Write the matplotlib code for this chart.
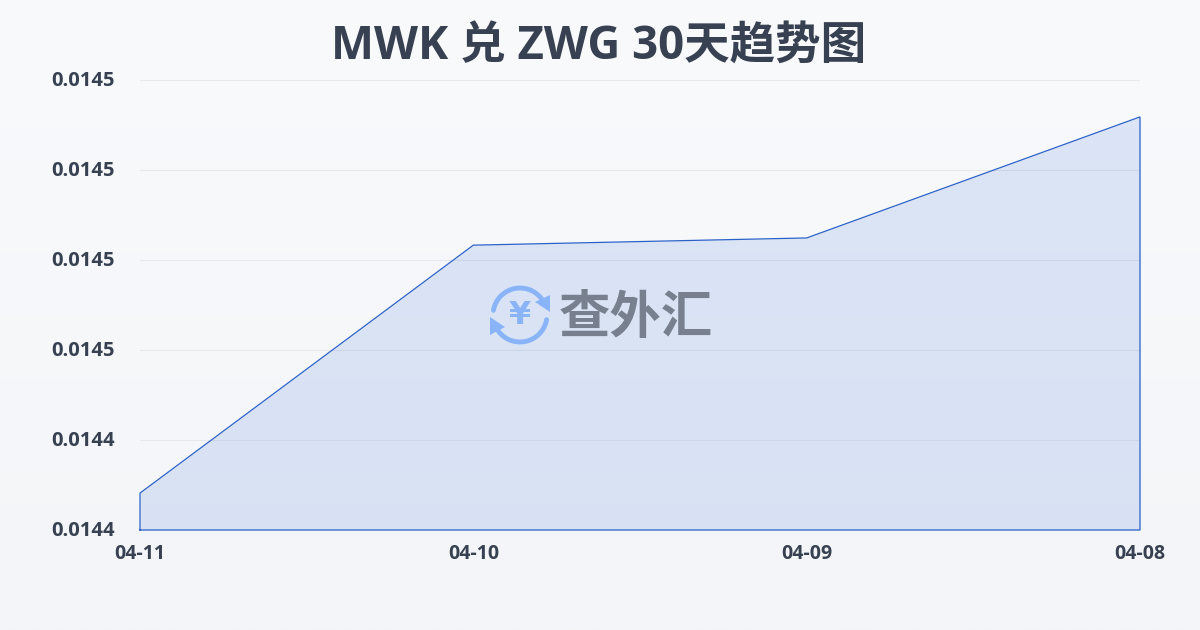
#!/usr/bin/env python3
"""MWK / ZWG 30 day trend, area chart with watermark."""
import matplotlib
matplotlib.use("Agg")
import matplotlib.pyplot as plt
from matplotlib.patches import Arc, Polygon
from matplotlib.transforms import ScaledTranslation
import numpy as np

plt.rcParams["font.family"] = ["Open Sans", "Noto Sans CJK SC", "DejaVu Sans"]

TITLE = "MWK 兑 ZWG 30天趋势图"
WATERMARK = "查外汇"
dates = ["04-11", "04-10", "04-09", "04-08"]
rates = [0.0144182, 0.0144733, 0.0144749, 0.0145018]
y_ticks = [0.01441, 0.01443, 0.01445, 0.01447, 0.01449, 0.01451]
y_labels = ["0.0144", "0.0144", "0.0145", "0.0145", "0.0145", "0.0145"]

W, H = 1200, 630
TEXT = "#374151"
LINE = "#2b62c8"

fig = plt.figure(figsize=(W / 100, H / 100), dpi=100)

# page background gradient
bg = fig.add_axes([0, 0, 1, 1], zorder=0)
bg.imshow(np.linspace(0, 1, 256).reshape(-1, 1), aspect="auto", extent=[0, 1, 0, 1],
          cmap=matplotlib.colors.LinearSegmentedColormap.from_list("bg", ["#f9fafc", "#f3f5f8"]))
bg.axis("off")

ax = fig.add_axes([140 / W, 1 - 530 / H, 1000 / W, 450 / H], zorder=1)
ax.patch.set_alpha(0)
x = np.arange(len(dates))
ax.fill_between(x, rates, y_ticks[0], color="#3b74dc", alpha=0.15, lw=0, zorder=2)
ax.plot([x[0], *x, x[-1], x[0]], [y_ticks[0], *rates, y_ticks[0], y_ticks[0]],
        color=LINE, lw=0.9, zorder=3, solid_joinstyle="miter", clip_on=False)
ax.set_xlim(x[0], x[-1])
ax.set_ylim(y_ticks[0], y_ticks[-1])
ax.set_yticks(y_ticks, y_labels)
ax.set_xticks(x, dates)
ax.grid(axis="y", color="#e6e8ec", lw=0.8, zorder=1)
ax.set_axisbelow(True)
for s in ax.spines.values():
    s.set_visible(False)
ax.tick_params(axis="y", length=0, pad=18, labelsize=14.5, labelcolor=TEXT)
ax.tick_params(axis="x", length=0, pad=10, labelsize=14, labelcolor=TEXT)
for t in ax.get_xticklabels() + ax.get_yticklabels():
    t.set_fontweight("bold")
up = ScaledTranslation(0, 1 / 100, fig.dpi_scale_trans)
for t in ax.get_yticklabels():
    t.set_transform(t.get_transform() + up)

fig.text(0.4985, 1 - 47 / H, TITLE, ha="center", va="center", fontsize=32.8,
         fontweight="bold", color=TEXT)

# watermark, drawn in pixel coordinates
wm = fig.add_axes([0, 0, 1, 1], zorder=2)
wm.set_xlim(0, W)
wm.set_ylim(H, 0)
wm.axis("off")
BLUE = "#8ab4f8"
wm.add_patch(Arc((520, 315), 54, 54, theta1=190, theta2=330, color=BLUE, lw=3.5, capstyle="round"))
wm.add_patch(Arc((520, 315), 54, 54, theta1=10, theta2=150, color=BLUE, lw=3.5, capstyle="round"))
wm.add_patch(Polygon([[550, 295], [550, 312], [535, 302]], color=BLUE, lw=0))
wm.add_patch(Polygon([[490, 317], [490, 335], [505, 327]], color=BLUE, lw=0))
wm.text(520, 315, "¥", ha="center", va="center", fontsize=23, fontweight="bold",
        color=BLUE, family=["DejaVu Sans"])
wm.text(636, 317, WATERMARK, ha="center", va="center", fontsize=37, fontweight="bold",
        color="#78808f", family=["Noto Sans CJK SC"])

fig.savefig("out.png", dpi=100)
